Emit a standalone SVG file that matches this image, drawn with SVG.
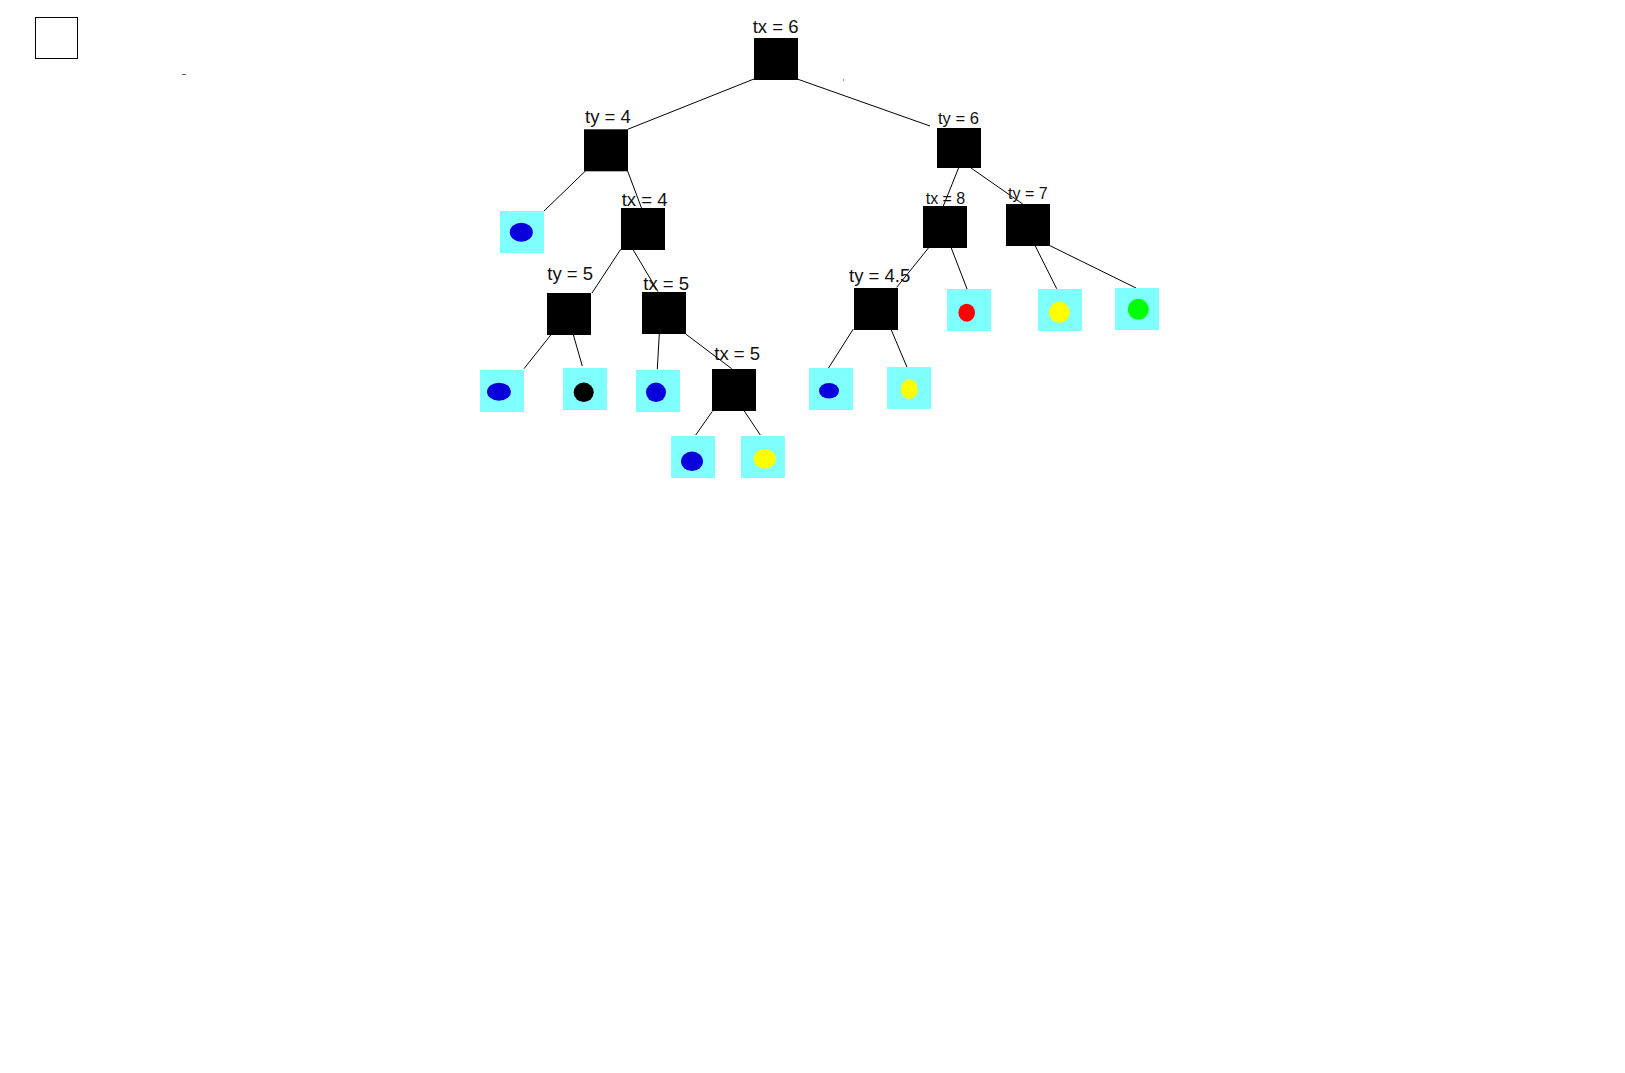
<svg xmlns="http://www.w3.org/2000/svg" width="1625" height="1073" viewBox="0 0 1625 1073">
<style>
  .n { fill: #000000; }
  .leaf { fill: #80FFFF; }
  .lbl { font-family: "Liberation Sans", Arial, sans-serif; fill: #111111; font-size: 18.5px; }
  .sm { font-size: 16px; }
  .edges line { stroke: #000000; stroke-width: 1; }
  .blue { fill: #0A00DC; }
  .yellow { fill: #FFFF00; }
  .red { fill: #FF0000; }
  .green { fill: #00FF00; }
  .blk { fill: #000000; }
</style>
<rect x="0" y="0" width="1625" height="1073" fill="#FFFFFF"/>
<g id="frame">
  <rect x="35.5" y="17.5" width="42" height="41" fill="#FFFFFF" stroke="#000000" stroke-width="1"/>
  <rect x="182" y="74" width="4" height="1" fill="#666666"/>
  <rect x="843" y="79.5" width="1" height="1" fill="#333333"/>
</g>
<g id="connectors" class="edges">
  <line x1="754" y1="79" x2="627.7" y2="129.3"/>
  <line x1="798" y1="79.3" x2="930" y2="126"/>
  <line x1="585.4" y1="171" x2="544" y2="211"/>
  <line x1="627.6" y1="171" x2="641.5" y2="208"/>
  <line x1="958.7" y1="167.7" x2="943.3" y2="206"/>
  <line x1="971" y1="168" x2="1022.7" y2="204"/>
  <line x1="620.7" y1="249.3" x2="592" y2="293"/>
  <line x1="633.3" y1="250" x2="658" y2="291.7"/>
  <line x1="551" y1="334.7" x2="524" y2="368.7"/>
  <line x1="573.3" y1="334.7" x2="582.3" y2="366"/>
  <line x1="659.3" y1="333.7" x2="657.3" y2="369.3"/>
  <line x1="685.7" y1="334" x2="731.7" y2="368.7"/>
  <line x1="712.3" y1="411.3" x2="695.7" y2="435"/>
  <line x1="744.3" y1="411" x2="760.3" y2="435"/>
  <line x1="928.7" y1="247.7" x2="896.7" y2="287.3"/>
  <line x1="951.3" y1="248" x2="967.7" y2="290.7"/>
  <line x1="1035.3" y1="246" x2="1056.7" y2="288.7"/>
  <line x1="1050" y1="245.7" x2="1136" y2="288"/>
  <line x1="853.3" y1="329" x2="827.7" y2="369.3"/>
  <line x1="891.3" y1="330" x2="907" y2="367.3"/>
</g>
<g id="node-tx6">
  <rect class="n" x="754" y="38" width="44" height="42"/>
  <text class="lbl" x="752.7" y="32.5">tx = 6</text>
</g>
<g id="node-ty4">
  <rect class="n" x="584" y="129.3" width="44" height="42"/>
  <text class="lbl" x="585" y="122.7">ty = 4</text>
</g>
<g id="node-ty6">
  <rect class="n" x="937" y="128" width="44" height="40"/>
  <text class="lbl" x="938" y="124" style="font-size:16.5px">ty = 6</text>
</g>
<g id="node-tx4">
  <rect class="n" x="621" y="208" width="44" height="42"/>
  <text class="lbl" x="621.7" y="205.7">tx = 4</text>
</g>
<g id="node-tx8">
  <rect class="n" x="923" y="206" width="44" height="42"/>
  <text class="lbl sm" x="925.7" y="203.5">tx = 8</text>
</g>
<g id="node-ty7">
  <rect class="n" x="1006" y="204" width="44" height="42"/>
  <text class="lbl sm" x="1008" y="199">ty = 7</text>
</g>
<g id="node-ty5">
  <rect class="n" x="547" y="293" width="44" height="42"/>
  <text class="lbl" x="547.3" y="280">ty = 5</text>
</g>
<g id="node-tx5a">
  <rect class="n" x="642" y="292" width="44" height="42"/>
  <text class="lbl" x="643.3" y="289.7">tx = 5</text>
</g>
<g id="node-ty45">
  <rect class="n" x="854" y="288" width="44" height="42"/>
  <text class="lbl" x="849" y="282">ty = 4.5</text>
</g>
<g id="node-tx5b">
  <rect class="n" x="712" y="369" width="44" height="42"/>
  <text class="lbl" x="714.3" y="360">tx = 5</text>
</g>
<g id="leaf-1">
  <rect class="leaf" x="500" y="211" width="44" height="42"/>
  <ellipse class="blue" cx="521.3" cy="232.3" rx="11.5" ry="9.5"/>
</g>
<g id="leaf-2">
  <rect class="leaf" x="480" y="370" width="44" height="42"/>
  <ellipse class="blue" cx="499" cy="391.7" rx="12" ry="9"/>
</g>
<g id="leaf-3">
  <rect class="leaf" x="563" y="368" width="44" height="42"/>
  <ellipse class="blk" cx="583.7" cy="392.3" rx="10" ry="9.7"/>
</g>
<g id="leaf-4">
  <rect class="leaf" x="636" y="370" width="44" height="42"/>
  <ellipse class="blue" cx="656" cy="392.3" rx="10" ry="9.7"/>
</g>
<g id="leaf-5">
  <rect class="leaf" x="671" y="436" width="44" height="42"/>
  <ellipse class="blue" cx="692" cy="461.3" rx="11" ry="9.7"/>
</g>
<g id="leaf-6">
  <rect class="leaf" x="741" y="436" width="44" height="42"/>
  <ellipse class="yellow" cx="764.7" cy="458.7" rx="11" ry="9.8"/>
</g>
<g id="leaf-7">
  <rect class="leaf" x="809" y="368" width="44" height="42"/>
  <ellipse class="blue" cx="829" cy="390.7" rx="10" ry="7.8"/>
</g>
<g id="leaf-8">
  <rect class="leaf" x="887" y="367" width="44" height="42"/>
  <ellipse class="yellow" cx="909.3" cy="389.3" rx="8.5" ry="10"/>
</g>
<g id="leaf-9">
  <rect class="leaf" x="947" y="289" width="44" height="42"/>
  <ellipse class="red" cx="966.7" cy="312.7" rx="8.3" ry="9"/>
</g>
<g id="leaf-10">
  <rect class="leaf" x="1038" y="289" width="44" height="42"/>
  <ellipse class="yellow" cx="1059.3" cy="312.3" rx="10.5" ry="10.5"/>
</g>
<g id="leaf-11">
  <rect class="leaf" x="1115" y="288" width="44" height="42"/>
  <ellipse class="green" cx="1138.3" cy="309.3" rx="10.5" ry="10.5"/>
</g>
</svg>
